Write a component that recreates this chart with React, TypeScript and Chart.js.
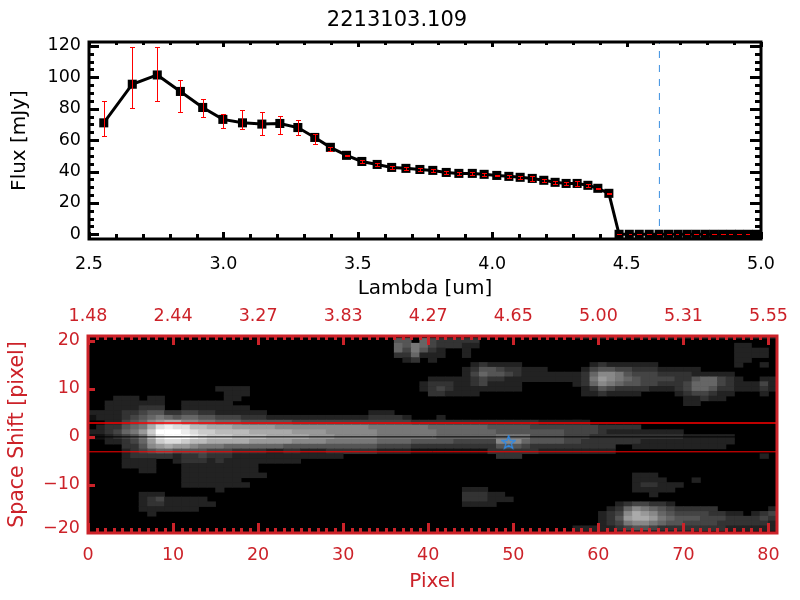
import React, { useEffect, useRef } from "react";
import { Chart, registerables } from "chart.js";

Chart.register(...registerables);

const TITLE = "2213103.109";
const lambda = [2.555, 2.661, 2.754, 2.84, 2.923, 2.998, 3.071, 3.143, 3.21, 3.277, 3.34, 3.398, 3.458, 3.515, 3.572, 3.626, 3.679, 3.731, 3.779, 3.829, 3.876, 3.926, 3.97, 4.017, 4.062, 4.104, 4.149, 4.192, 4.234, 4.275, 4.316, 4.356, 4.393, 4.434, 4.472, 4.51, 4.547, 4.584, 4.621, 4.656, 4.691, 4.725, 4.758, 4.792, 4.824, 4.857, 4.889, 4.92, 4.952, 4.983];
const flux = [71, 95.6, 101.5, 91, 80.8, 73.2, 71, 70.2, 70.6, 68, 61.7, 55.4, 50.3, 46.4, 44.5, 42.6, 42, 41.3, 40.7, 39.4, 38.8, 38.8, 38.2, 37.5, 36.9, 36.3, 35.6, 34.4, 33.1, 32.4, 32.4, 31.2, 29.3, 26.1, 0, 0, 0, 0, 0, 0, 0, 0, 0, 0, 0, 0, 0, 0, 0, 0];
const errTop = [85, 119.4, 119.4, 98.6, 86.5, 76.8, 78.9, 77.6, 75.5, 72.5, 64, 55.3, 50.5, 47.5, 45.3, 43.6, 43, 42.3, 41.6, 40.3, 39.8, 39.7, 39.2, 37.8, 37.9, 37.3, 37.1, 35.4, 33.9, 33.4, 34.1, 32.1, 29.7, 26.4, 0, 0, 0, 0, 0, 0, 0, 0, 0, 0, 0, 0, 0, 0, 0, 0];
const errBottom = [62.3, 80.2, 84.6, 77.6, 75, 67.4, 66.8, 63, 63.6, 63, 57.3, 52.8, 49.6, 45.3, 43.7, 41.7, 41.1, 40.4, 39.9, 38.6, 37.9, 38, 37.3, 37.2, 35.9, 35.3, 34.1, 33.4, 32.3, 31.4, 30.7, 30.3, 28.9, 25.8, 0, 0, 0, 0, 0, 0, 0, 0, 0, 0, 0, 0, 0, 0, 0, 0];
const markerLambda = 4.622;
const lambdaMajor = [2.5, 3, 3.5, 4, 4.5, 5];
const lambdaMinor = [2.6, 2.7, 2.8, 2.9, 3.1, 3.2, 3.3, 3.4, 3.6, 3.7, 3.8, 3.9, 4.1, 4.2, 4.3, 4.4, 4.6, 4.7, 4.8, 4.9];
const fluxMajor = [0, 20, 40, 60, 80, 100, 120];
const fluxMinor = [5, 10, 15, 25, 30, 35, 45, 50, 55, 65, 70, 75, 85, 90, 95, 105, 110, 115];

const pixelMajor = [0, 10, 20, 30, 40, 50, 60, 70, 80];
const pixelMinor = [1, 2, 3, 4, 5, 6, 7, 8, 9, 11, 12, 13, 14, 15, 16, 17, 18, 19, 21, 22, 23, 24, 25, 26, 27, 28, 29, 31, 32, 33, 34, 35, 36, 37, 38, 39, 41, 42, 43, 44, 45, 46, 47, 48, 49, 51, 52, 53, 54, 55, 56, 57, 58, 59, 61, 62, 63, 64, 65, 66, 67, 68, 69, 71, 72, 73, 74, 75, 76, 77, 78, 79];
const wavelengthLabels = ["1.48", "2.44", "3.27", "3.83", "4.27", "4.65", "5.00", "5.31", "5.55"];
const shiftTickMarks = [20, 10, 0, -10];
const shiftLabelPositions = [20, 10, 0, -10, -19];
const shiftLabels = ["20", "10", "0", "\u221210", "\u221220"];
const apertureTop = 2.9;
const apertureBottom = -3.1;
const traceCentre = 0;
const starPoint = { x: 49.45, y: -1.2 };

// [row (space shift), first pixel column, grey level per column in hex]
const heatSegments: [number, number, string][] = [
  [21, 57, "222222222222222222222222"],
  [20, 36, "5506433333"],
  [19, 36, "6576433322"], [19, 76, "22"],
  [18, 36, "647532"], [18, 44, "2"], [18, 76, "2222"],
  [17, 36, "336222"], [17, 44, "2"], [17, 76, "2222"],
  [16, 37, "2302"], [16, 76, "22"],
  [15, 45, "232222"], [15, 59, "23222222"], [15, 76, "2"], [15, 79, "2"],
  [14, 44, "2355433222"], [14, 58, "24554433322222"],
  [13, 44, "24655432222222368875444333322222"],
  [12, 40, "222223433222222222"], [12, 58, "3798765444433566432"], [12, 79, "22"],
  [11, 39, "233322342222"], [11, 57, "236876554433346664322242"],
  [10, 15, "2222"], [10, 39, "234322222222"], [10, 58, "23543333222346653322232"],
  [9, 16, "222"], [9, 40, "332222"], [9, 58, "2232222"], [9, 69, "2344322"], [9, 79, "2"],
  [8, 3, "222"], [8, 7, "22"], [8, 16, "22"], [8, 70, "22322"],
  [7, 2, "2222222"], [7, 11, "222222"], [7, 70, "22"],
  [6, 2, "2222333"], [6, 11, "22222222"],
  [5, 0, "222233455334433222222"], [5, 33, "222"],
  [4, 0, "12223456765665544433322222222222233332"], [4, 41, "2"],
  [3, 2, "2245689aa887766655555544444444444444333333333333333222222"], [3, 57, "2"],
  [2, 1, "233567adeddbbaaa99999888888"], [2, 28, "8888877777776666666555554444444433333"],
  [1, 0, "2234679cfffedccbbbbaaaaa9999"], [1, 28, "888888777777766666665555555544443222222222"],
  [0, 0, "1123457befffedcccbbbbaaaaa999"], [0, 29, "88888777777766666667777555544433333333333222222"],
  [-1, 2, "2234 69cddcbbaaaaa999998888".replace(" ", "")], [-1, 28, "777777666655555444448886555544333333322222222222"],
  [-2, 4, "33589a998777666666655555"], [-2, 28, "5555554444333333333355543333333333"], [-2, 64, "22222222222"],
  [-3, 4, "234566555544433332233222"], [-3, 28, "3333332222111111111333333222222222"],
  [-4, 4, "23333323343332222222222222"], [-4, 48, "333"], [-4, 79, "2"],
  [-5, 4, "2222"], [-5, 10, "233323222222222"],
  [-6, 4, "2222"], [-6, 11, "222222222"],
  [-7, 6, "22"], [-7, 11, "222222222"],
  [-8, 11, "2222222222"], [-8, 64, "222"],
  [-9, 11, "2222222"], [-9, 64, "2222"], [-9, 71, "2"],
  [-10, 11, "22222222"], [-10, 64, "233222"],
  [-11, 15, "2"], [-11, 44, "222"], [-11, 64, "22222"],
  [-12, 6, "222"], [-12, 44, "33322"], [-12, 66, "2"],
  [-13, 6, "23422222"], [-13, 44, "333222"],
  [-14, 6, "233222222"], [-14, 44, "2222"], [-14, 62, "2344332"],
  [-15, 6, "2222222"], [-15, 61, "2368765433333"], [-15, 80, "2"],
  [-16, 7, "2"], [-16, 60, "2348a986544443322"], [-16, 78, "234"],
  [-17, 60, "2359aa976555444333343"],
  [-18, 60, "234788765544443333332"],
  [-19, 57, "222223455433333333222222"],
  [-20, 62, "222222222"],
];

const FONT = "'DejaVu Sans'";
const BLACK = "#000000";
const RED = "#cc2229";
const TICK_FONT = 17.5;
const TITLE_FONT = 20;

type Marks = { values: number[]; len: number };
function frameAndTicks(id: string, color: string, width: number, cfg: {
  bottom?: Marks[]; top?: Marks[]; left?: Marks[]; right?: Marks[];
}) {
  return {
    id,
    afterDatasetsDraw(chart: any) {
      const { ctx, chartArea: a, scales } = chart;
      ctx.save();
      ctx.strokeStyle = color;
      ctx.fillStyle = color;
      const xs = scales.x, ys = scales.y;
      (cfg.bottom || []).forEach((m) => m.values.forEach((v) => {
        ctx.fillRect(Math.round(xs.getPixelForValue(v)) - 1, a.bottom - m.len, 3, m.len);
      }));
      (cfg.top || []).forEach((m) => m.values.forEach((v) => {
        ctx.fillRect(Math.round(xs.getPixelForValue(v)) - 1, a.top, 3, m.len);
      }));
      (cfg.left || []).forEach((m) => m.values.forEach((v) => {
        ctx.fillRect(a.left, Math.round(ys.getPixelForValue(v)) - 1, m.len, 3);
      }));
      (cfg.right || []).forEach((m) => m.values.forEach((v) => {
        ctx.fillRect(a.right - m.len, Math.round(ys.getPixelForValue(v)) - 1, m.len, 3);
      }));
      ctx.lineWidth = width;
      ctx.strokeRect(a.left, a.top, a.right - a.left, a.bottom - a.top);
      ctx.restore();
    },
  };
}

const errorBars = {
  id: "errorBars",
  afterDatasetsDraw(chart: any) {
    const { ctx, scales } = chart;
    ctx.save();
    ctx.fillStyle = "#ff0000";
    lambda.forEach((l, i) => {
      const x = Math.round(scales.x.getPixelForValue(l));
      const t = Math.round(scales.y.getPixelForValue(errTop[i]));
      const b = Math.round(scales.y.getPixelForValue(errBottom[i]));
      ctx.fillRect(x, t, 1, Math.max(b - t, 1));
      ctx.fillRect(x - 2, t, 5, 1);
      ctx.fillRect(x - 2, b, 5, 1);
    });
    ctx.restore();
  },
};

const plotBackground = {
  id: "plotBackground",
  beforeDatasetsDraw(chart: any) {
    const { ctx, chartArea: a } = chart;
    ctx.save();
    ctx.fillStyle = "#000000";
    ctx.fillRect(a.left, a.top, a.right - a.left, a.bottom - a.top);
    ctx.restore();
  },
};

function fixedSize(size: number, vertical: boolean) {
  return (scale: any) => {
    if (vertical) scale.width = size;
    else scale.height = size;
    scale.paddingLeft = scale.paddingRight = scale.paddingTop = scale.paddingBottom = 0;
  };
}

function makeStar(color: string) {
  const c = document.createElement("canvas");
  c.width = 15;
  c.height = 15;
  const g = c.getContext("2d")!;
  g.strokeStyle = color;
  g.lineWidth = 1.3;
  g.beginPath();
  for (let i = 0; i < 10; i++) {
    const r = i % 2 === 0 ? 7 : 2.8;
    const t = -Math.PI / 2 + (i * Math.PI) / 5;
    const px = 7.5 + r * Math.cos(t);
    const py = 7.5 + r * Math.sin(t);
    if (i === 0) g.moveTo(px, py);
    else g.lineTo(px, py);
  }
  g.closePath();
  g.stroke();
  return c;
}

export default function App() {
  const topRef = useRef<HTMLCanvasElement>(null);
  const bottomRef = useRef<HTMLCanvasElement>(null);

  useEffect(() => {
    const top = new Chart(topRef.current!, {
      type: "line",
      data: {
        datasets: [
          {
            data: lambda.map((x, i) => ({ x, y: flux[i] })),
            borderColor: BLACK,
            backgroundColor: BLACK,
            borderWidth: 3,
            pointStyle: "rect",
            pointRadius: 6.4,
            pointBorderWidth: 0,
            tension: 0,
          },
          {
            data: [{ x: markerLambda, y: 122.5 }, { x: markerLambda, y: -3 }],
            borderColor: "#3a8fe0",
            borderWidth: 1,
            borderDash: [7, 7],
            borderDashOffset: 5,
            pointRadius: 0,
          },
        ],
      },
      options: {
        animation: false,
        responsive: false,
        devicePixelRatio: 1,
        layout: { padding: { left: 0, right: 6, top: 0, bottom: 0 } },
        plugins: {
          legend: { display: false },
          tooltip: { enabled: false },
          title: {
            display: true,
            text: TITLE,
            color: BLACK,
            font: { family: FONT, size: 21, weight: "normal", lineHeight: 1 },
            padding: { top: 10, bottom: 11 },
          },
        },
        scales: {
          x: {
            type: "linear",
            min: 2.5,
            max: 5,
            afterBuildTicks: (s: any) => { s.ticks = lambdaMajor.map((value) => ({ value })); },
            afterFit: fixedSize(61, false),
            grid: { display: false, drawTicks: false },
            border: { display: false },
            ticks: { autoSkip: false, maxRotation: 0, color: BLACK, padding: 15, font: { family: FONT, size: TICK_FONT }, callback: (v: any) => Number(v).toFixed(1) },
            title: { display: true, text: "Lambda [um]", color: BLACK, font: { family: FONT, size: TITLE_FONT, lineHeight: 1 }, padding: { top: 0, bottom: 1 } },
          },
          y: {
            min: -3,
            max: 122.5,
            afterBuildTicks: (s: any) => { s.ticks = fluxMajor.map((value) => ({ value })); },
            afterFit: fixedSize(89, true),
            grid: { display: false, drawTicks: false },
            border: { display: false },
            ticks: { autoSkip: false, color: BLACK, padding: 8, font: { family: FONT, size: TICK_FONT }, callback: (v: any) => String(v) },
            title: { display: true, text: "Flux [mJy]", color: BLACK, font: { family: FONT, size: TITLE_FONT, lineHeight: 1 }, padding: { top: 10, bottom: 0 } },
          },
          yRight: {
            position: "right",
            afterFit: fixedSize(33, true),
            grid: { display: false, drawTicks: false },
            border: { display: false },
            ticks: { display: false },
          },
        },
      },
      plugins: [
        errorBars,
        frameAndTicks("topFrame", BLACK, 3, {
          bottom: [{ values: lambdaMajor, len: 7 }, { values: lambdaMinor, len: 5 }],
          top: [{ values: lambdaMajor, len: 5 }, { values: lambdaMinor, len: 3 }],
          left: [{ values: fluxMajor, len: 10 }, { values: fluxMinor, len: 5 }],
          right: [{ values: fluxMajor, len: 11 }, { values: fluxMinor, len: 6 }],
        }),
      ],
    } as any);

    const cells: { x: number; y: [number, number] }[] = [];
    const cellColors: string[] = [];
    heatSegments.forEach(([row, start, levels]) => {
      levels.split("").forEach((ch, i) => {
        const level = parseInt(ch, 16);
        if (!level) return;
        const grey = level * 17;
        cells.push({ x: start + i + 0.5, y: [row - 0.5, row + 0.5] });
        cellColors.push(`rgb(${grey},${grey},${grey})`);
      });
    });

    const bottom = new Chart(bottomRef.current!, {
      type: "bar",
      data: {
        datasets: [
          {
            type: "line",
            data: [starPoint],
            showLine: false,
            pointStyle: makeStar("#2f8ae6"),
            pointRadius: 7,
          },
          {
            type: "line",
            data: [{ x: 0, y: apertureTop }, { x: 81, y: apertureTop }],
            borderColor: "#ff0000",
            borderWidth: 1.5,
            pointRadius: 0,
          },
          {
            type: "line",
            data: [{ x: 0, y: apertureBottom }, { x: 81, y: apertureBottom }],
            borderColor: "#ff0000",
            borderWidth: 1,
            pointRadius: 0,
          },
          {
            type: "line",
            data: [{ x: 0, y: traceCentre }, { x: 81, y: traceCentre }],
            borderColor: BLACK,
            borderWidth: 1,
            pointRadius: 0,
          },
          {
            type: "bar",
            data: cells,
            backgroundColor: cellColors,
            borderWidth: 0,
            barPercentage: 1,
            categoryPercentage: 1,
          },
        ],
      } as any,
      options: {
        animation: false,
        responsive: false,
        devicePixelRatio: 1,
        layout: { padding: { left: 0, right: 23, top: 0, bottom: 0 } },
        plugins: { legend: { display: false }, tooltip: { enabled: false }, title: { display: false } },
        scales: {
          x: {
            type: "linear",
            min: 0,
            max: 81,
            offset: false,
            afterBuildTicks: (s: any) => { s.ticks = pixelMajor.map((value) => ({ value })); },
            afterFit: fixedSize(67, false),
            grid: { display: false, drawTicks: false },
            border: { display: false },
            ticks: { autoSkip: false, maxRotation: 0, color: RED, padding: 12, font: { family: FONT, size: TICK_FONT }, callback: (v: any) => String(v) },
            title: { display: true, text: "Pixel", color: RED, font: { family: FONT, size: TITLE_FONT, lineHeight: 1 }, padding: { top: 0, bottom: 8 } },
          },
          xTop: {
            type: "linear",
            position: "top",
            min: 0,
            max: 81,
            offset: false,
            afterBuildTicks: (s: any) => { s.ticks = pixelMajor.map((value) => ({ value })); },
            afterFit: fixedSize(36, false),
            grid: { display: false, drawTicks: false },
            border: { display: false },
            ticks: { autoSkip: false, maxRotation: 0, color: RED, padding: 9, font: { family: FONT, size: TICK_FONT }, callback: (_v: any, i: number) => wavelengthLabels[i] },
          },
          y: {
            min: -20,
            max: 21,
            afterBuildTicks: (s: any) => { s.ticks = shiftLabelPositions.map((value) => ({ value })); },
            afterFit: fixedSize(88, true),
            grid: { display: false, drawTicks: false },
            border: { display: false },
            ticks: { autoSkip: false, color: RED, padding: 8, font: { family: FONT, size: TICK_FONT }, callback: (_v: any, i: number) => shiftLabels[i] },
            title: { display: true, text: "Space Shift [pixel]", color: RED, font: { family: FONT, size: 20.5, lineHeight: 1 }, padding: { top: 7, bottom: 0 } },
          },
        },
      },
      plugins: [
        plotBackground,
        frameAndTicks("bottomFrame", RED, 3, {
          bottom: [{ values: pixelMajor, len: 10 }, { values: pixelMinor, len: 5 }],
          top: [{ values: pixelMajor, len: 9 }, { values: pixelMinor, len: 4 }],
          left: [{ values: shiftTickMarks, len: 7 }],
        }),
      ],
    } as any);

    return () => {
      top.destroy();
      bottom.destroy();
    };
  }, []);

  return (
    <div style={{ position: "absolute", left: 0, top: 0, width: 800, height: 600, background: "#ffffff" }}>
      <canvas ref={topRef} width={800} height={300} style={{ display: "block", position: "absolute", left: 0, top: 0 }} />
      <canvas ref={bottomRef} width={800} height={300} style={{ display: "block", position: "absolute", left: 0, top: 300 }} />
    </div>
  );
}
